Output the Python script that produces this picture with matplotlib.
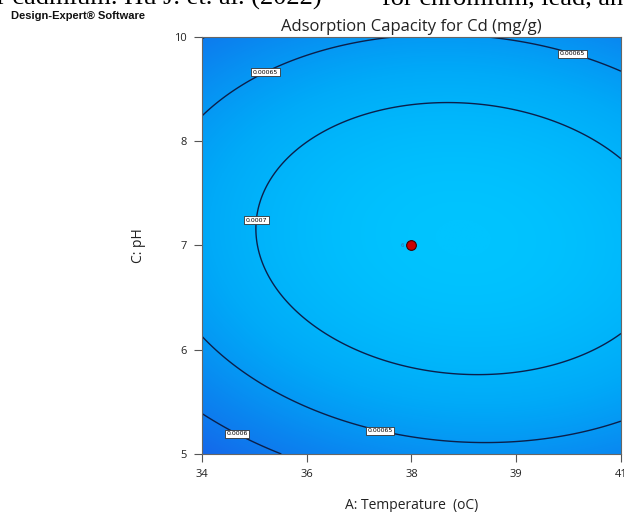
import numpy as np
import matplotlib
matplotlib.use("Agg")
import matplotlib.pyplot as plt
from matplotlib.colors import LinearSegmentedColormap, Normalize

# ---- data ----
title = "Adsorption Capacity for Cd (mg/g)"
x_label = "A: Temperature  (oC)"
y_label = "C: pH"
x_tick_pos = [-1.0, -0.5, 0.0, 0.5, 1.0]
x_tick_labels = ["34", "36", "38", "39", "41"]
y_tick_pos = [-1.0, -0.5, 0.0, 0.5, 1.0]
y_tick_labels = ["5", "6", "7", "8", "10"]

# quadratic model in coded terms (A = temperature, C = pH)
coef_terms = ["Intercept", "A", "C", "AC", "A^2", "C^2"]
coef_values = [7.374e-4, 2.05e-5, 8.47e-6, -9.09e-6, -4.13e-5, -9.46e-5]

contour_levels = [0.0006, 0.00065, 0.0007]
label_positions = [(-0.727, 0.892), (0.780, 0.959), (-0.732, 0.12),
                   (-0.828, -0.892), (-0.148, -0.873)]
design_point = (0.0, 0.0)
design_point_count = "6"

# ---- figure ----
fig = plt.figure(figsize=(6.24, 5.12), dpi=100)
ax = fig.add_axes([0.3237, 0.1133, 0.6715, 0.8145])

xs = np.linspace(-1, 1, 400)
ys = np.linspace(-1, 1, 400)
X, Y = np.meshgrid(xs, ys)
b0, bA, bC, bAC, bA2, bC2 = coef_values
Z = b0 + bA * X + bC * Y + bAC * X * Y + bA2 * X**2 + bC2 * Y**2

cmap = LinearSegmentedColormap.from_list("de", ["#1566ea", "#0a86f0", "#00aaf8", "#00c4ff"])
ax.imshow(Z, extent=(-1, 1, -1, 1), origin="lower", cmap=cmap,
          norm=Normalize(vmin=0.00056, vmax=0.00074), aspect="auto",
          interpolation="bilinear")
cs = ax.contour(X, Y, Z, levels=contour_levels, colors="#0b1f4a", linewidths=1.0)
labels = ax.clabel(cs, inline=False, fontsize=4.5, manual=label_positions,
                   fmt=lambda v: f"{v:g}")
for t in labels:
    t.set_color("black")
    t.set_rotation(0)
    t.set_bbox(dict(boxstyle="square,pad=0.25", fc="white", ec="#333333", lw=0.6))

ax.plot([design_point[0]], [design_point[1]], "o", ms=7, mfc="#cc0000",
        mec="#400000", mew=0.8, zorder=5)
ax.text(design_point[0] - 0.045, design_point[1], design_point_count,
        color="#3a6fb0", fontsize=4, ha="center", va="center", zorder=5)

ax.set_xlim(-1, 1)
ax.set_ylim(-1, 1)
ax.set_xticks(x_tick_pos)
ax.set_xticklabels(x_tick_labels)
ax.set_yticks(y_tick_pos)
ax.set_yticklabels(y_tick_labels)
ax.tick_params(direction="out", length=6, width=0.8, color="#555555",
               labelsize=8, labelcolor="#222222", pad=5)
for lab in ax.get_xticklabels() + ax.get_yticklabels():
    lab.set_family("Open Sans")
for s in ax.spines.values():
    s.set_color("#666666")
    s.set_linewidth(0.8)

ax.set_title(title, fontsize=12, family="Open Sans", color="#222222", pad=4)
ax.set_xlabel(x_label, fontsize=10, family="Open Sans", color="#222222", labelpad=13)
ax.set_ylabel(y_label, fontsize=10, family="Open Sans", color="#222222", labelpad=20)

fig.text(11 / 624, 1 - 16 / 512, "Design-Expert\u00ae Software", fontsize=8,
         fontweight="bold", family="Liberation Sans", color="#111111",
         ha="left", va="center")
# cropped line of document text at the very top
fig.text(322 / 624, 1 - 5 / 512, "for cadmium. Hu J. et. al. (2022)", fontsize=19,
         family="Liberation Serif", color="black", ha="right", va="baseline")
fig.text(382 / 624, 1 - 5 / 512, "for chromium, lead, and", fontsize=19,
         family="Liberation Serif", color="black", ha="left", va="baseline")

fig.savefig("out.png", dpi=100)
